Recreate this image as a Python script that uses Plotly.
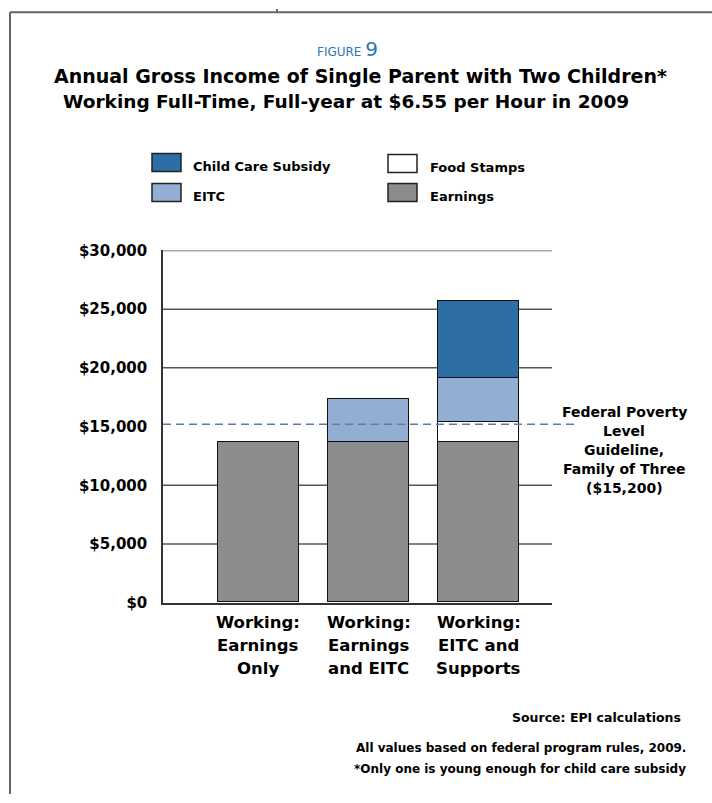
import plotly.graph_objects as go

W, H = 712, 803

# ---------------- data ----------------
categories = ["Working: Earnings Only", "Working: Earnings and EITC", "Working: EITC and Supports"]
category_lines = [["Working:", "Earnings", "Only"],
                  ["Working:", "Earnings", "and EITC"],
                  ["Working:", "EITC and", "Supports"]]
x_pos = [0, 1, 2]
earnings = [13620, 13620, 13620]
food_stamps = [None, None, 1700]
eitc = [None, 3650, 3800]
child_care = [None, None, 6500]
poverty_level = 15200

y_tick_vals = [0, 5000, 10000, 15000, 20000, 25000, 30000]
y_tick_text = ["$0", "$5,000", "$10,000", "$15,000", "$20,000", "$25,000", "$30,000"]
grid_vals = [5000, 10000, 20000, 25000, 30000]

title_lines = ["Annual Gross Income of Single Parent with Two Children*",
               "Working Full-Time, Full-year at $6.55 per Hour in 2009"]
legend_items = [("Child Care Subsidy", "#2e6ea6"), ("Food Stamps", "#ffffff"),
                ("EITC", "#93aed3"), ("Earnings", "#8c8c8c")]
poverty_lines = ["Federal Poverty", "Level", "Guideline,", "Family of Three", "($15,200)"]
source_text = "Source: EPI calculations"
note_lines = ["All values based on federal program rules, 2009.",
              "*Only one is young enough for child care subsidy"]

# ---------------- helpers ----------------
# the captured page shows y' = 8.7 + 0.977*y, so place items accordingly
def px(x):
    return x / W

def py(y):
    yy = (y - 8.7) / 0.977
    return 1 - yy / H

FONT = "DejaVu Sans"
EDGE = dict(color="#111111", width=1.2)
BAR_W = 0.736

fig = go.Figure()
fig.add_trace(go.Bar(x=x_pos, y=earnings, width=BAR_W, name="Earnings",
                     marker=dict(color="#8c8c8c", line=EDGE)))
fig.add_trace(go.Bar(x=x_pos, y=food_stamps, width=BAR_W, name="Food Stamps",
                     marker=dict(color="#ffffff", line=EDGE)))
fig.add_trace(go.Bar(x=x_pos, y=eitc, width=BAR_W, name="EITC",
                     marker=dict(color="#93aed3", line=EDGE)))
fig.add_trace(go.Bar(x=x_pos, y=child_care, width=BAR_W, name="Child Care Subsidy",
                     marker=dict(color="#2e6ea6", line=EDGE)))

x_dom = [px(163), px(552)]
y_dom = [py(602), py(250)]

shapes = []
# gridlines
for g in grid_vals:
    shapes.append(dict(type="line", xref="paper", yref="y", x0=x_dom[0], x1=x_dom[1],
                       y0=g, y1=g, line=dict(color="#555555", width=1.5), layer="below"))
# poverty line
shapes.append(dict(type="line", xref="paper", yref="y", x0=x_dom[0], x1=px(577),
                   y0=poverty_level, y1=poverty_level,
                   line=dict(color="#5b7fa3", width=1.5, dash="8px,5px"), layer="above"))
# page frame
frame = dict(color="#666666", width=2)
shapes.append(dict(type="line", xref="paper", yref="paper", x0=px(10), x1=1,
                   y0=py(12), y1=py(12), line=frame))
shapes.append(dict(type="line", xref="paper", yref="paper", x0=px(10), x1=px(10),
                   y0=py(12), y1=0, line=frame))
shapes.append(dict(type="line", xref="paper", yref="paper", x0=px(277), x1=px(277),
                   y0=1, y1=py(12), line=frame))

annotations = []
# figure label
annotations.append(dict(text="FIGURE <span style='font-size:20px'>9</span>", x=px(347), y=py(49),
                        xref="paper", yref="paper", showarrow=False, xanchor="center", yanchor="middle",
                        font=dict(family=FONT, size=12, color="#2e75b6")))
# title
for t, cx, cy, fs in zip(title_lines, [360, 346], [76, 101], [19, 18.5]):
    annotations.append(dict(text=t, x=px(cx), y=py(cy), xref="paper", yref="paper",
                            showarrow=False, xanchor="center", yanchor="middle",
                            font=dict(family=FONT, size=fs, color="black", weight="bold")))
# legend
legend_pos = [(152, 162, 191), (388, 163, 428), (152, 192, 191), (388, 192, 428)]
for (label, color), (sx, cy, tx) in zip(legend_items, legend_pos):
    shapes.append(dict(type="rect", xref="paper", yref="paper", x0=px(sx), x1=px(sx + 29),
                       y0=py(cy + 9), y1=py(cy - 9), fillcolor=color,
                       line=dict(color="#222222", width=1.5)))
    annotations.append(dict(text=label, x=px(tx), y=py(cy + 4), xref="paper", yref="paper",
                            showarrow=False, xanchor="left", yanchor="middle",
                            font=dict(family=FONT, size=13, color="black", weight="bold")))
# category labels
for xi, lines in zip(x_pos, category_lines):
    for li, ln in enumerate(lines):
        annotations.append(dict(text=ln, x=xi, y=py(622 + 23 * li), xref="x", yref="paper",
                                showarrow=False, xanchor="center", yanchor="middle",
                                font=dict(family=FONT, size=16.5, color="black", weight="bold")))
# poverty label
for li, ln in enumerate(poverty_lines):
    annotations.append(dict(text=ln, x=px(624), y=py(411 + 19 * li), xref="paper", yref="paper",
                            showarrow=False, xanchor="center", yanchor="middle",
                            font=dict(family=FONT, size=14, color="black", weight="bold")))
# source & notes
annotations.append(dict(text=source_text, x=px(683), y=py(717), xref="paper", yref="paper",
                        showarrow=False, xanchor="right", yanchor="middle",
                        font=dict(family=FONT, size=12.5, color="black", weight="bold")))
for li, ln in enumerate(note_lines):
    annotations.append(dict(text=ln, x=px(688), y=py(747 + 21 * li), xref="paper", yref="paper",
                            showarrow=False, xanchor="right", yanchor="middle",
                            font=dict(family=FONT, size=12, color="black", weight="bold")))

fig.update_layout(
    width=W, height=H, margin=dict(l=0, r=0, t=0, b=0),
    paper_bgcolor="white", plot_bgcolor="white",
    barmode="stack", bargap=0, showlegend=False,
    xaxis=dict(domain=x_dom, range=[-0.868, 2.668], showgrid=False, zeroline=False,
               showticklabels=False, ticks="", showline=True, linecolor="#333333", linewidth=1.5,
               fixedrange=True),
    yaxis=dict(domain=y_dom, range=[0, 30000], showgrid=False, zeroline=False,
               tickvals=y_tick_vals, ticktext=y_tick_text, ticks="", ticklabelstandoff=11,
               tickfont=dict(family=FONT, size=15, color="black", weight="bold"),
               showline=True, linecolor="#333333", linewidth=1.5, fixedrange=True),
    shapes=shapes, annotations=annotations,
)

fig.write_html("out.html", config={"displayModeBar": False})
